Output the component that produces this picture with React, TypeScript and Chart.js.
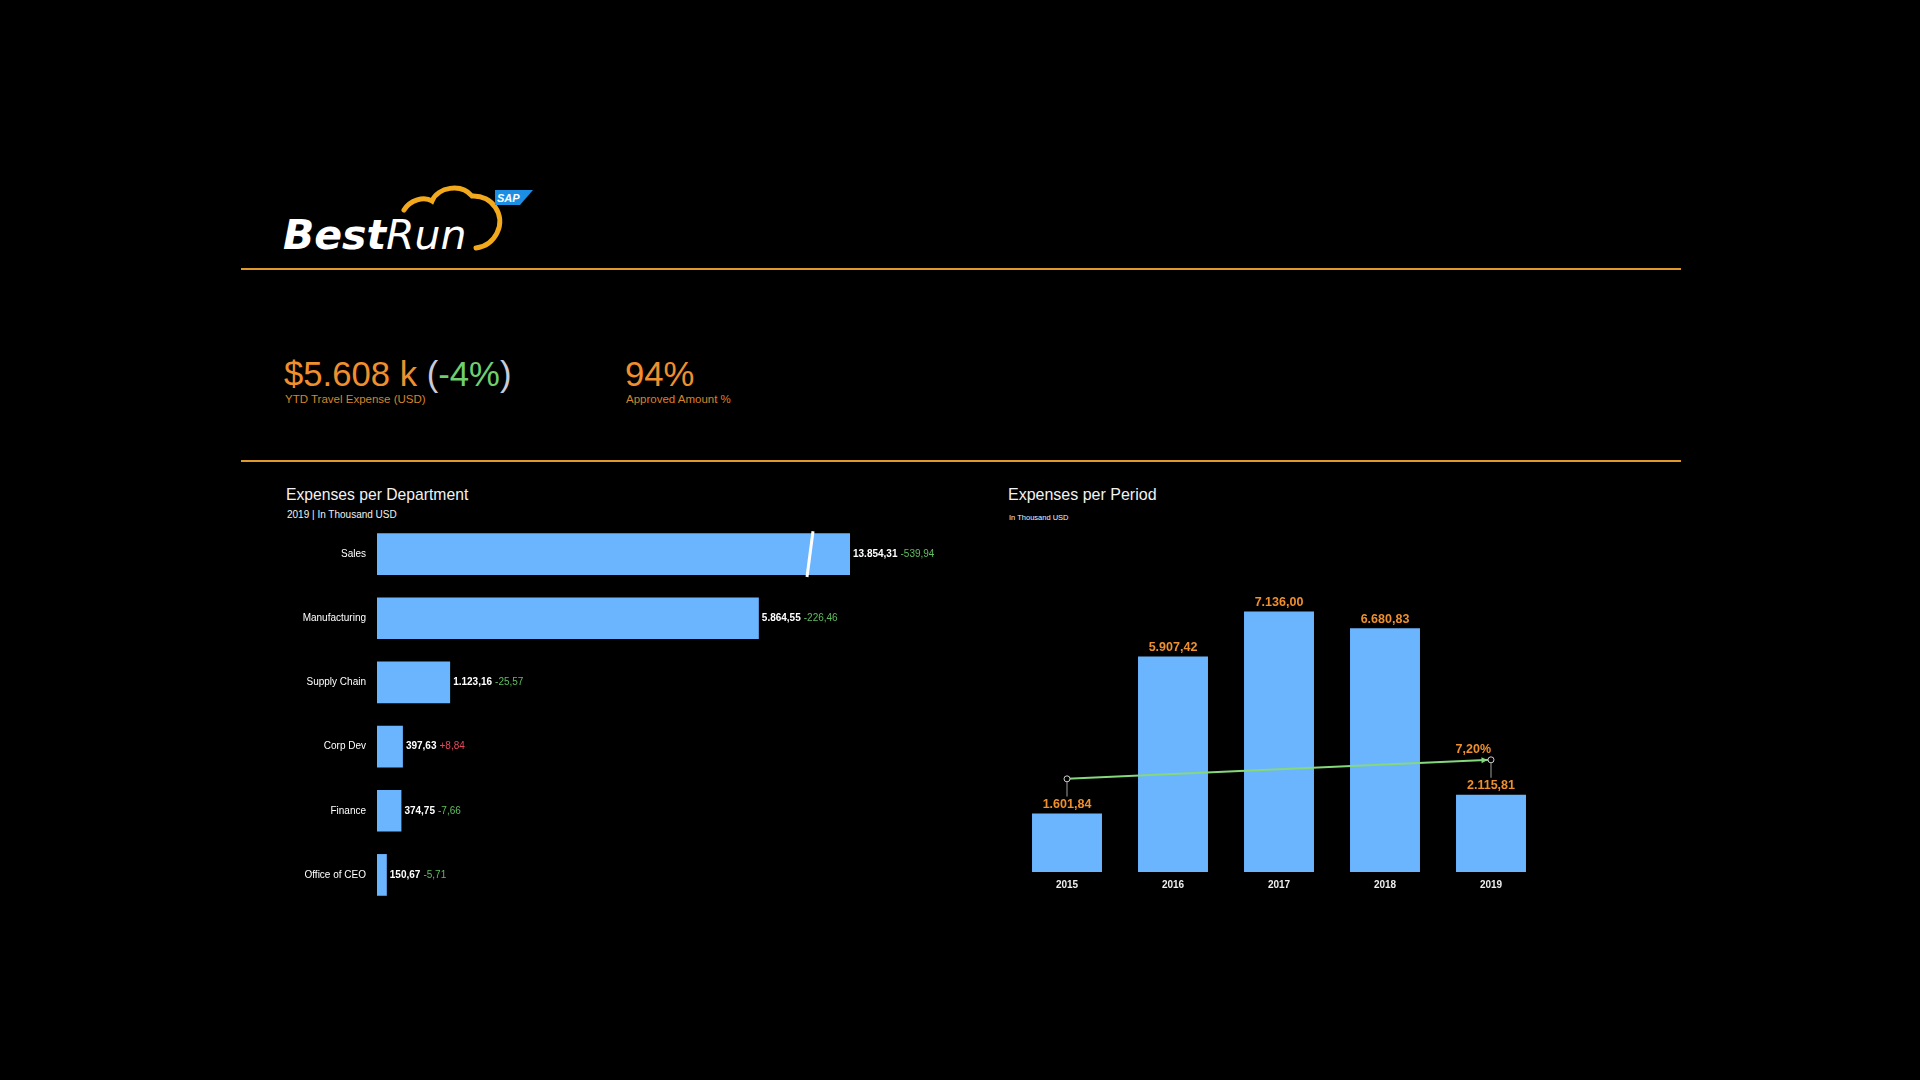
import React, { useEffect, useRef } from "react";
import { Chart, registerables } from "chart.js";

Chart.register(...registerables);

// ---------- data ----------
const departments = ["Sales", "Manufacturing", "Supply Chain", "Corp Dev", "Finance", "Office of CEO"];
const deptExpenses = [13854.31, 5864.55, 1123.16, 397.63, 374.75, 150.67];
const deptDeltas = [-539.94, -226.46, -25.57, 8.84, -7.66, -5.71];
const deptAxisMax = 7265;

const periods = ["2015", "2016", "2017", "2018", "2019"];
const periodExpenses = [1601.84, 5907.42, 7136.0, 6680.83, 2115.81];
const trendValues: (number | null)[] = [2552, null, null, null, 3073];
const trendLabel = "7,20%";
const periodAxisMax = 8000;

const kpiValue = "$5.608 k";
const kpiChange = "-4%";
const kpiLabel = "YTD Travel Expense (USD)";
const kpiApproved = "94%";
const kpiApprovedLabel = "Approved Amount %";

// ---------- style ----------
const FONT = "'Liberation Sans', Arial, sans-serif";
const BLUE = "#6bb5ff";
const ORANGE = "#ef8f2d";
const GREEN_TXT = "#5fbf5f";
const RED_TXT = "#e5485a";
const LINE_GREEN = "#86d87c";
const RULE = "#e09a2a";

function fmt(v: number): string {
  const neg = v < 0;
  const [i, d] = Math.abs(v).toFixed(2).split(".");
  const ip = i.replace(/\B(?=(\d{3})+(?!\d))/g, ".");
  return (neg ? "-" : "") + ip + "," + d;
}
function fmtDelta(v: number): string {
  return (v >= 0 ? "+" : "") + fmt(v);
}

const deptLabelsPlugin = {
  id: "deptLabels",
  afterDatasetsDraw(chart: any) {
    const ctx = chart.ctx;
    const area = chart.chartArea;
    const meta = chart.getDatasetMeta(0);
    ctx.save();
    meta.data.forEach((el: any, i: number) => {
      const v = deptExpenses[i];
      const broken = el.x > area.right;
      const xEnd = Math.min(el.x, area.right);
      const h = el.height;
      if (broken) {
        const bx = area.right - 40;
        ctx.strokeStyle = "#ffffff";
        ctx.lineWidth = 3;
        ctx.beginPath();
        ctx.moveTo(bx + 3, el.y - h / 2 - 2);
        ctx.lineTo(bx - 3, el.y + h / 2 + 2);
        ctx.stroke();
      }
      ctx.textBaseline = "middle";
      ctx.textAlign = "left";
      ctx.font = `bold 10px ${FONT}`;
      ctx.fillStyle = "#ffffff";
      const t1 = fmt(v);
      ctx.fillText(t1, xEnd + 3, el.y);
      const w = ctx.measureText(t1).width;
      ctx.font = `10px ${FONT}`;
      const d = deptDeltas[i];
      ctx.fillStyle = d > 0 ? RED_TXT : GREEN_TXT;
      ctx.fillText(fmtDelta(d), xEnd + 3 + w + 3, el.y);
    });
    ctx.restore();
  },
};

const periodLabelsPlugin = {
  id: "periodLabels",
  afterDatasetsDraw(chart: any) {
    const ctx = chart.ctx;
    const barMeta = chart.getDatasetMeta(1);
    const lineMeta = chart.getDatasetMeta(0);
    ctx.save();
    ctx.font = `bold 12.5px ${FONT}`;
    ctx.textAlign = "center";
    ctx.textBaseline = "middle";
    ctx.fillStyle = ORANGE;
    barMeta.data.forEach((el: any, i: number) => {
      ctx.fillText(fmt(periodExpenses[i]), el.x, el.y - 9);
    });
    const pts: any[] = [];
    lineMeta.data.forEach((pt: any, i: number) => {
      if (trendValues[i] == null) return;
      pts.push(pt);
      const labelY = barMeta.data[i].y - 9;
      ctx.strokeStyle = "#a0a0a0";
      ctx.lineWidth = 1;
      ctx.beginPath();
      ctx.moveTo(pt.x, pt.y + 3);
      ctx.lineTo(pt.x, labelY - 8);
      ctx.stroke();
    });
    if (pts.length >= 2) {
      const a = pts[0];
      const b = pts[pts.length - 1];
      const ang = Math.atan2(b.y - a.y, b.x - a.x);
      const tipX = b.x - 3.5 * Math.cos(ang);
      const tipY = b.y - 3.5 * Math.sin(ang);
      ctx.fillStyle = LINE_GREEN;
      ctx.beginPath();
      ctx.moveTo(tipX, tipY);
      ctx.lineTo(tipX - 6 * Math.cos(ang) + 3 * Math.sin(ang), tipY - 6 * Math.sin(ang) - 3 * Math.cos(ang));
      ctx.lineTo(tipX - 6 * Math.cos(ang) - 3 * Math.sin(ang), tipY - 6 * Math.sin(ang) + 3 * Math.cos(ang));
      ctx.closePath();
      ctx.fill();
      ctx.font = `bold 12.5px ${FONT}`;
      ctx.textAlign = "right";
      ctx.fillStyle = ORANGE;
      ctx.fillText(trendLabel, b.x, b.y - 10);
    }
    ctx.restore();
  },
};

function DeptChart() {
  const ref = useRef<HTMLCanvasElement>(null);
  useEffect(() => {
    if (!ref.current) return;
    const chart = new Chart(ref.current, {
      type: "bar",
      data: {
        labels: departments,
        datasets: [
          {
            data: deptExpenses,
            backgroundColor: BLUE,
            barPercentage: 0.65,
            categoryPercentage: 1,
            clip: 0,
          } as any,
        ],
      },
      options: {
        indexAxis: "y",
        responsive: false,
        maintainAspectRatio: false,
        animation: false,
        layout: { padding: { top: 20, bottom: 20, left: 0, right: 110 } },
        plugins: { legend: { display: false }, tooltip: { enabled: false } },
        scales: {
          x: { display: false, min: 0, max: deptAxisMax },
          y: {
            grid: { display: false, drawTicks: false },
            border: { display: false },
            ticks: { color: "#ffffff", font: { size: 10, family: FONT }, padding: 11 },
            afterFit: (s: any) => {
              s.width = 137;
            },
          },
        },
      } as any,
      plugins: [deptLabelsPlugin],
    });
    return () => chart.destroy();
  }, []);
  return (
    <canvas
      ref={ref}
      width={720}
      height={425}
      style={{ position: "absolute", left: 240, top: 502, width: 720, height: 425 }}
    />
  );
}

function PeriodChart() {
  const ref = useRef<HTMLCanvasElement>(null);
  useEffect(() => {
    if (!ref.current) return;
    const chart = new Chart(ref.current, {
      type: "bar",
      data: {
        labels: periods,
        datasets: [
          {
            type: "line",
            data: trendValues,
            borderColor: LINE_GREEN,
            borderWidth: 2,
            spanGaps: true,
            pointRadius: 3,
            pointBackgroundColor: "#000000",
            pointBorderColor: "#d0d0d0",
            pointBorderWidth: 1,
            order: 0,
          } as any,
          {
            type: "bar",
            data: periodExpenses,
            backgroundColor: BLUE,
            barPercentage: 0.66,
            categoryPercentage: 1,
            order: 1,
          } as any,
        ],
      },
      options: {
        responsive: false,
        maintainAspectRatio: false,
        animation: false,
        layout: { padding: { top: 20, left: 14, right: 16, bottom: 4 } },
        plugins: { legend: { display: false }, tooltip: { enabled: false } },
        scales: {
          x: {
            grid: { display: false, drawTicks: false },
            border: { display: false },
            ticks: { color: "#eeeeee", font: { size: 10, family: FONT, weight: "bold" }, padding: 7 },
            afterFit: (s: any) => {
              s.height = 24;
            },
          },
          y: { display: false, min: 0, max: periodAxisMax },
        },
      } as any,
      plugins: [periodLabelsPlugin],
    });
    return () => chart.destroy();
  }, []);
  return (
    <canvas
      ref={ref}
      width={560}
      height={340}
      style={{ position: "absolute", left: 1000, top: 560, width: 560, height: 340 }}
    />
  );
}

function Text(props: { left: number; top: number; size: number; color: string; weight?: any; children: any }) {
  return (
    <div
      style={{
        position: "absolute",
        left: props.left,
        top: props.top,
        fontSize: props.size,
        lineHeight: props.size + "px",
        color: props.color,
        fontWeight: props.weight || "normal",
        fontFamily: FONT,
        whiteSpace: "nowrap",
      }}
    >
      {props.children}
    </div>
  );
}

function Logo() {
  return (
    <svg width={300} height={100} style={{ position: "absolute", left: 260, top: 170 }} viewBox="260 170 300 100">
      <path
        d="M 404 210 C 410 200, 424 196, 432 201 C 438 187, 461 183, 472 196 C 492 195, 506 215, 497 233 C 492 243, 484 247, 476 248"
        fill="none"
        stroke="#f2a91c"
        strokeWidth={5}
        strokeLinecap="round"
      />
      <polygon points="495,190 533,190 520,205 495,205" fill="#1b8fe3" />
      <text x={497} y={202} fontFamily={FONT} fontWeight="bold" fontStyle="italic" fontSize={11} fill="#ffffff">
        SAP
      </text>
      <text x={283} y={249} fontFamily="'DejaVu Sans', sans-serif" fontSize={41} fill="#ffffff" fontStyle="italic">
        <tspan fontWeight="bold">Best</tspan>
        <tspan fontWeight="500">Run</tspan>
      </text>
    </svg>
  );
}

export default function App() {
  useEffect(() => {
    document.body.style.margin = "0";
    document.body.style.background = "#000";
  }, []);
  return (
    <div style={{ position: "absolute", left: 0, top: 0, width: 1920, height: 1080, background: "#000", overflow: "hidden" }}>
      <Logo />
      <div style={{ position: "absolute", left: 241, top: 268, width: 1440, height: 2, background: RULE }} />
      <Text left={284} top={357} size={34.7} color={ORANGE}>
        {kpiValue}{" "}
        <span style={{ color: "#c8ccd8" }}>(</span>
        <span style={{ color: "#6fcf6f" }}>{kpiChange}</span>
        <span style={{ color: "#c8ccd8" }}>)</span>
      </Text>
      <Text left={285} top={394} size={11.5} color="#d8832a">{kpiLabel}</Text>
      <Text left={625} top={357} size={34.7} color={ORANGE}>{kpiApproved}</Text>
      <Text left={626} top={394} size={11.5} color="#d8832a">{kpiApprovedLabel}</Text>
      <div style={{ position: "absolute", left: 241, top: 460, width: 1440, height: 2, background: RULE }} />

      <Text left={286} top={487} size={15.7} color="#f2f2f2">Expenses per Department</Text>
      <Text left={287} top={510} size={10} color="#f2f2f2">2019 | In Thousand USD</Text>
      <DeptChart />

      <Text left={1008} top={487} size={16} color="#f2f2f2">Expenses per Period</Text>
      <Text left={1009} top={514} size={7.5} color="#f2f2f2">In Thousand USD</Text>
      <PeriodChart />
    </div>
  );
}
